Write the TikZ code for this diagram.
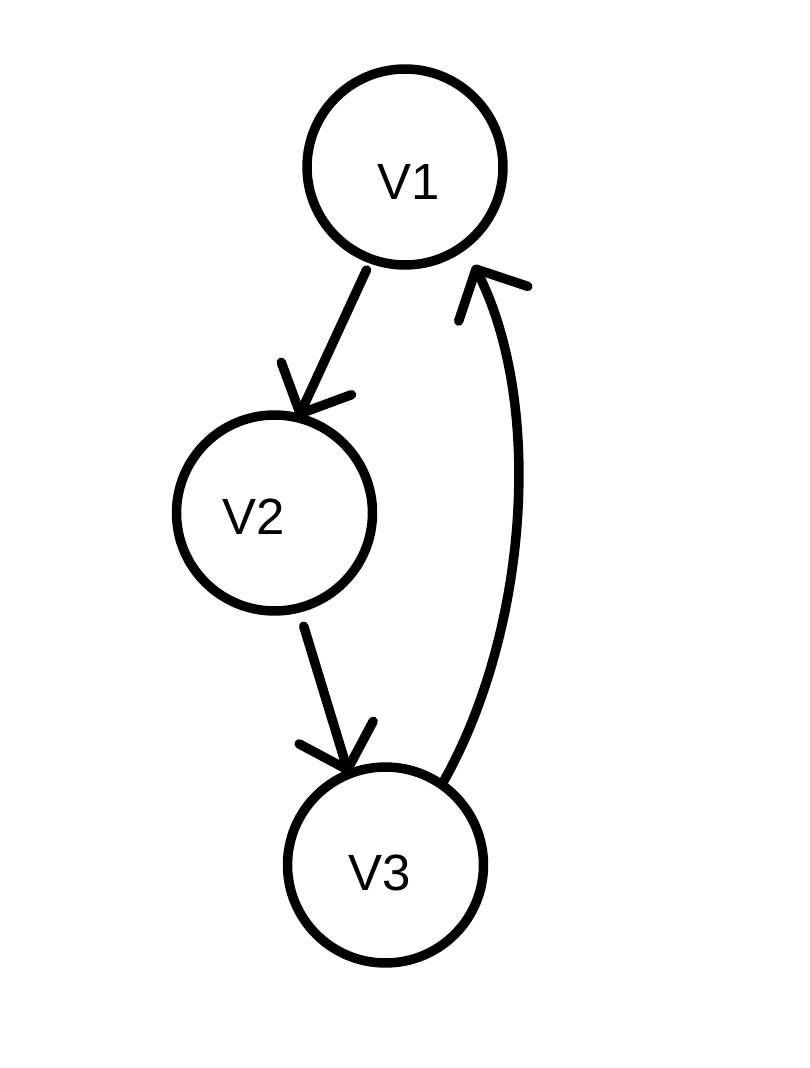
\documentclass[tikz,border=0pt]{standalone}
\usepackage{fontspec}
\setmainfont{Liberation Sans}
\usetikzlibrary{positioning,arrows.meta}
\tikzset{
  vertex/.style={draw=black,circle,line width=5.4pt,minimum size=3.92cm,inner sep=0pt,outer sep=0pt},
  lbl/.style={font=\fontsize{29}{32}\selectfont,inner sep=0pt},
  flow/.style={-{Straight Barb[length=22pt,width=44pt,round]},line width=5.4pt,line cap=round,draw=black}}

\begin{document}
\begin{tikzpicture}[x=0.02cm,y=-0.02cm]
  \useasboundingbox (0,0) rectangle (809,1068);
  % the three vertices, labels sit a little off centre
  \node[vertex,label={[lbl,xshift=0.08cm,yshift=-0.3cm]center:V1}] (V1) at (405,167) {};
  \node[vertex,label={[lbl,xshift=-0.41cm,yshift=-0.08cm]center:V2}] (V2) at (274.5,513) {};
  \node[vertex,label={[lbl,xshift=-0.11cm,yshift=-0.16cm]center:V3}] (V3) at (385.5,865) {};
  % edges
  \draw[flow,shorten <=0.24cm] (V1.250) -- (V2.76);
  \draw[flow,shorten <=0.38cm] (V2.284) -- (V3.112);
  \draw[flow,shorten >=0.44cm] (V3.55) .. controls (526,638) and (546,409) .. (V1.307.5);
\end{tikzpicture}
\end{document}
